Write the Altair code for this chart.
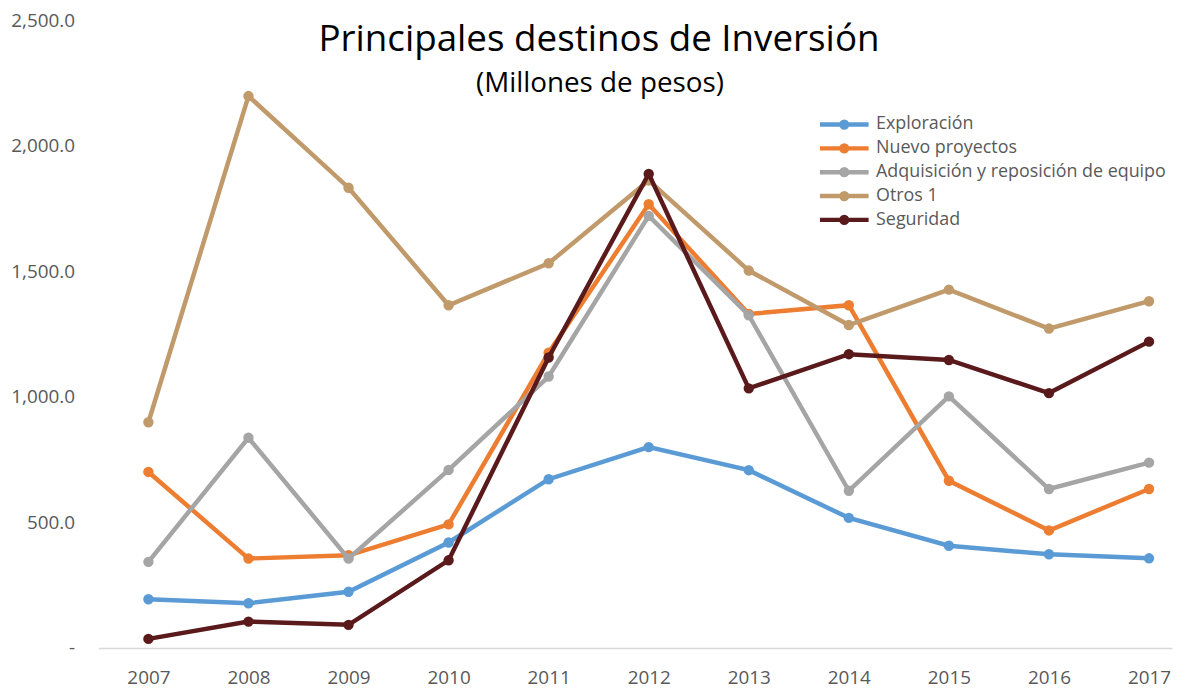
import altair as alt
import pandas as pd

years = [2007, 2008, 2009, 2010, 2011, 2012, 2013, 2014, 2015, 2016, 2017]
series = ["Exploración", "Nuevo proyectos", "Adquisición y reposición de equipo", "Otros 1", "Seguridad"]
colors = ["#5B9BD5", "#ED7D31", "#A5A5A5", "#C19A6B", "#5A1A1B"]

exploracion = [194, 178, 224, 420, 672, 800, 708, 518, 407, 373, 357]
nuevo = [701, 356, 369, 492, 1176, 1767, 1330, 1365, 666, 468, 633]
adquisicion = [343, 837, 356, 709, 1081, 1721, 1325, 626, 1002, 633, 738]
otros = [899, 2198, 1833, 1365, 1532, 1862, 1503, 1286, 1427, 1272, 1381]
seguridad = [36, 105, 92, 349, 1157, 1888, 1034, 1170, 1147, 1015, 1220]

values = [exploracion, nuevo, adquisicion, otros, seguridad]
rows = []
for s, vals in zip(series, values):
    for y, v in zip(years, vals):
        rows.append({"anio": y, "valor": v, "serie": s})
df = pd.DataFrame(rows)

FONT = "Open Sans"
GREY = "#595959"

legend_path = "M-1,0L1,0M-0.12,0A0.12,0.12 0 1,1 0.12,0A0.12,0.12 0 1,1 -0.12,0Z"

color = alt.Color(
    "serie:N",
    scale=alt.Scale(domain=series, range=colors),
    sort=series,
    legend=alt.Legend(
        orient="none",
        legendX=724,
        legendY=93,
        title=None,
        symbolType=legend_path,
        symbolSize=2401,
        symbolStrokeWidth=4.5,
        labelFont=FONT,
        labelFontSize=18,
        labelColor=GREY,
        labelOffset=5,
        labelLimit=600,
        rowPadding=0,
        clipHeight=24,
    ),
)

x = alt.X(
    "anio:Q",
    scale=alt.Scale(domain=[2006.5, 2017.23], nice=False, zero=False),
    axis=alt.Axis(
        values=years, format="d", title=None, grid=False, ticks=False,
        domainColor="#D9D9D9", domainWidth=1.5, labelFont=FONT, labelFontSize=19,
        labelColor=GREY, labelPadding=21, labelFlush=False,
    ),
)
y = alt.Y(
    "valor:Q",
    scale=alt.Scale(domain=[0, 2500], nice=False),
    axis=alt.Axis(
        values=[0, 500, 1000, 1500, 2000, 2500], title=None, grid=False, ticks=False,
        domain=False, labelFont=FONT, labelFontSize=19, labelColor=GREY, labelPadding=24,
        labelExpr="datum.value == 0 ? '-\u00a0\u00a0' : format(datum.value, ',.1f')",
    ),
)

base = alt.Chart(df)
layers = []
for s in series:
    sub = base.transform_filter(alt.datum.serie == s)
    layers.append(sub.mark_line(strokeWidth=4.5).encode(x=x, y=y, color=color))
    layers.append(sub.mark_point(filled=False, size=30, strokeWidth=5, opacity=1).encode(x=x, y=y, color=color))

title_df = pd.DataFrame({"t": ["Principales destinos de Inversión"]})
sub_df = pd.DataFrame({"t": ["(Millones de pesos)"]})
title = alt.Chart(title_df).mark_text(font=FONT, fontSize=37, color="#000000", align="center", baseline="middle").encode(
    text="t:N", x=alt.value(504), y=alt.value(20))
subtitle = alt.Chart(sub_df).mark_text(font=FONT, fontSize=28, color="#000000", align="center", baseline="middle").encode(
    text="t:N", x=alt.value(505), y=alt.value(64))

chart = alt.layer(*layers, title, subtitle).properties(
    width=1081, height=632,
    autosize=alt.AutoSizeParams(type="none"),
    padding={"left": 91, "top": 10, "right": 5, "bottom": 39},
    view=alt.ViewBackground(stroke="transparent", strokeWidth=0),
).configure_view(stroke="transparent", strokeWidth=0).configure(background="white")

chart.save("out.html", embed_options={"renderer": "svg", "actions": False})
